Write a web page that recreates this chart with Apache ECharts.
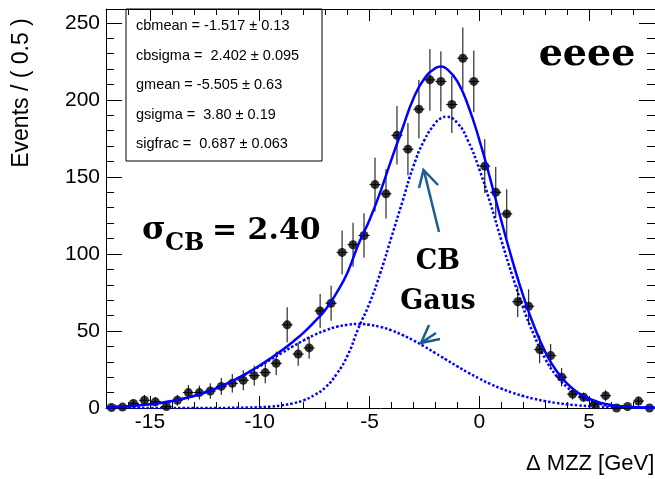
<!DOCTYPE html>
<html>
<head>
<meta charset="utf-8">
<script src="https://cdn.jsdelivr.net/npm/echarts@6/dist/echarts.min.js"></script>
<style>
  html, body { margin: 0; padding: 0; background: #ffffff; }
  #chart { width: 655px; height: 479px; }
</style>
</head>
<body>
<div id="chart"></div>
<script>
// Binned events (bin width 0.5 GeV), centres of the bins
const binCenters = [
  -16.75, -16.25, -15.75, -15.25, -14.75, -14.25, -13.75, -13.25, -12.75, -12.25,
  -11.75, -11.25, -10.75, -10.25, -9.75, -9.25, -8.75, -8.25, -7.75, -7.25,
  -6.75, -6.25, -5.75, -5.25, -4.75, -4.25, -3.75, -3.25, -2.75, -2.25,
  -1.75, -1.25, -0.75, -0.25, 0.25, 0.75, 1.25, 1.75, 2.25, 2.75,
  3.25, 3.75, 4.25, 4.75, 5.25, 5.75, 6.25, 6.75, 7.25, 7.75
];
const events = [
  0.3, 0.6, 3, 5, 4, 1, 5, 10, 10, 11,
  14, 16, 18, 21, 23, 29, 54, 35, 39, 63,
  68, 101, 106, 112, 145, 139, 177, 168, 194, 213,
  212, 197, 227, 212, 157, 140, 126, 69, 66, 38,
  34, 20, 9, 7, 2.5, 8, 0, 1, 4.5, 0
];
const eventErrors = [
  0.5, 0.8, 2.5, 3.5, 3, 1.5, 3.5, 5, 4.5, 5,
  5.5, 6, 6.5, 6.5, 7, 7.6, 11.4, 7.6, 7, 11,
  11.4, 14.3, 14.3, 14.4, 17.5, 16, 19, 17, 19, 20,
  19.5, 18.5, 20, 20, 17.5, 16.5, 16, 10, 11, 9,
  7.6, 6, 3.5, 3, 1.5, 3.5, 0.5, 1, 3, 0.5
];
const binHalfWidth = 0.25;

// Fit curves sampled every 0.5 GeV (plus the top of the peak)
const curveX = [
  -17, -16.5, -16, -15.5, -15, -14.5, -14, -13.5, -13, -12.5,
  -12, -11.5, -11, -10.5, -10, -9.5, -9, -8.5, -8, -7.5,
  -7, -6.5, -6, -5.5, -5, -4.5, -4, -3.5, -3, -2.5,
  -2, -1.75, -1.5, -1, -0.5, 0, 0.5, 1, 1.5, 2, 2.5,
  3, 3.5, 4, 4.5, 5, 5.5, 6, 6.5, 7, 7.5, 8
];
const totalFit = [
  0.57, 0.84, 1.21, 1.72, 2.41, 3.32, 4.49, 5.97, 7.82, 10.03,
  12.65, 15.78, 19.35, 23.3, 27.6, 32.3, 37.4, 42.9, 48.9, 56.0,
  63.9, 74.7, 88.0, 106.5, 122.0, 140.6, 161.4, 181.4, 200.9, 213.9,
  220.6, 221.6, 220.3, 212.0, 195.9, 174.1, 148.6, 121.6, 96.0, 72.8, 52.9,
  36.5, 24.3, 15.9, 9.9, 6.0, 3.5, 2.0, 1.07, 0.59, 0.32, 0.17
];
const cbComponent = [
  0.01, 0.01, 0.01, 0.01, 0.01, 0.01, 0.01, 0.01, 0.02, 0.03,
  0.05, 0.08, 0.15, 0.3, 0.5, 0.9, 1.7, 3, 5, 8.5,
  13.5, 22, 34, 52, 68, 88, 111, 134, 157, 174,
  185, 188.1, 189, 185, 173, 155, 133, 109, 86, 65, 47,
  32, 21, 13.5, 8.2, 4.8, 2.7, 1.4, 0.7, 0.35, 0.16, 0.07
];
const gausComponent = [
  0.56, 0.83, 1.2, 1.71, 2.4, 3.31, 4.48, 5.96, 7.8, 10.0,
  12.6, 15.7, 19.2, 23.0, 27.1, 31.4, 35.7, 39.9, 43.9, 47.5,
  50.4, 52.7, 54.0, 54.5, 54.0, 52.6, 50.4, 47.4, 43.9, 39.9,
  35.6, 33.5, 31.3, 27.0, 22.9, 19.1, 15.6, 12.6, 9.97, 7.75, 5.93,
  4.45, 3.29, 2.39, 1.70, 1.19, 0.82, 0.56, 0.37, 0.24, 0.16, 0.10
];

// Axis ranges and ticks
const xRange = [-17, 8];
const yRange = [0, 259];
const xMajorTicks = [-15, -10, -5, 0, 5];
const xMinorTicks = [-17, -16, -14, -13, -12, -11, -9, -8, -7, -6, -4, -3, -2, -1, 1, 2, 3, 4, 6, 7, 8];
const yMajorTicks = [0, 50, 100, 150, 200, 250];
const yMinorTicks = [10, 20, 30, 40, 60, 70, 80, 90, 110, 120, 130, 140, 160, 170, 180, 190, 210, 220, 230, 240];

// Fit results box
const fitParams = [
  'cbmean = -1.517 \u00b1 0.13',
  'cbsigma =  2.402 \u00b1 0.095',
  'gmean = -5.505 \u00b1 0.63',
  'gsigma =  3.80 \u00b1 0.19',
  'sigfrac =  0.687 \u00b1 0.063'
];

const channelLabel = 'eeee';
const yTitle = 'Events / ( 0.5 )';
const xTitle = '\u0394 MZZ [GeV]';

const SANS = '"Liberation Sans", Arial, sans-serif';
const SERIF = '"DejaVu Serif", serif';
const BLUE = '#0000ff';
const ARROW = '#1b5d8c';

function zip(xs, ys) { return xs.map((x, i) => [x, ys[i]]); }

function xAxisDef(position, ticks, len, showLine, showLabels) {
  return {
    type: 'value', position: position, min: xRange[0], max: xRange[1],
    axisLine: { show: showLine, onZero: false, lineStyle: { color: '#000', width: 1 } },
    axisTick: { show: true, inside: true, length: len, customValues: ticks, lineStyle: { color: '#000', width: 1 } },
    axisLabel: showLabels
      ? { show: true, customValues: ticks, fontFamily: SANS, fontSize: 21, color: '#000', margin: 4 }
      : { show: false },
    splitLine: { show: false }
  };
}
function yAxisDef(position, ticks, len, showLine, showLabels) {
  return {
    type: 'value', position: position, min: yRange[0], max: yRange[1],
    axisLine: { show: showLine, onZero: false, lineStyle: { color: '#000', width: 1 } },
    axisTick: { show: true, inside: true, length: len, customValues: ticks, lineStyle: { color: '#000', width: 1 } },
    axisLabel: showLabels
      ? { show: true, customValues: ticks, fontFamily: SANS, fontSize: 21, color: '#000', margin: 6 }
      : { show: false },
    splitLine: { show: false }
  };
}

const chart = echarts.init(document.getElementById('chart'), null, { renderer: 'canvas' });

const statsTexts = fitParams.map((t, i) => ({
  type: 'text', x: 136, y: 26 + 29.6 * i, z: 10,
  style: { text: t, fontFamily: SANS, fontSize: 14.5, fill: '#000', textVerticalAlign: 'middle' }
}));

const dotted = { color: BLUE, width: 2.5, type: [2.5, 2] };

chart.setOption({
  backgroundColor: '#ffffff',
  animation: false,
  grid: { left: 106, top: 9, width: 550, height: 399, containLabel: false },
  xAxis: [
    xAxisDef('bottom', xMajorTicks, 12, true, true),
    xAxisDef('bottom', xMinorTicks, 6, false, false),
    xAxisDef('top', xMajorTicks, 12, true, false),
    xAxisDef('top', xMinorTicks, 6, false, false)
  ],
  yAxis: [
    yAxisDef('left', yMajorTicks, 16, true, true),
    yAxisDef('left', yMinorTicks, 8, false, false),
    yAxisDef('right', yMajorTicks, 16, true, false),
    yAxisDef('right', yMinorTicks, 8, false, false)
  ],
  series: [
    {
      type: 'line', name: 'gaus', data: zip(curveX, gausComponent),
      smooth: 0.5, symbol: 'none', z: 3, lineStyle: dotted
    },
    {
      type: 'line', name: 'cb', data: zip(curveX, cbComponent),
      smooth: 0.5, symbol: 'none', z: 3, lineStyle: dotted
    },
    {
      type: 'custom', name: 'errors', z: 4,
      data: binCenters.map((x, i) => [x, events[i], eventErrors[i]]),
      renderItem: function (params, api) {
        const x = api.value(0), y = api.value(1), e = api.value(2);
        const c = api.coord([x, y]);
        const top = api.coord([x, y + e]);
        const bot = api.coord([x, Math.max(y - e, 0)]);
        const l = api.coord([x - binHalfWidth, y]);
        const r = api.coord([x + binHalfWidth, y]);
        return {
          type: 'group',
          children: [
            { type: 'line', shape: { x1: c[0], y1: top[1], x2: c[0], y2: bot[1] }, style: { stroke: '#000', lineWidth: 1 } },
            { type: 'line', shape: { x1: l[0], y1: c[1], x2: r[0], y2: c[1] }, style: { stroke: '#000', lineWidth: 1 } }
          ]
        };
      }
    },
    {
      type: 'scatter', name: 'data', data: zip(binCenters, events),
      symbol: 'circle', symbolSize: 9, z: 5,
      itemStyle: { color: '#000' }
    },
    {
      type: 'line', name: 'total', data: zip(curveX, totalFit),
      smooth: 0.5, symbol: 'none', z: 6,
      lineStyle: { color: BLUE, width: 2.5 }
    }
  ],
  graphic: [
    { type: 'rect', shape: { x: 126, y: 9, width: 196, height: 152 }, style: { fill: 'none', stroke: '#000', lineWidth: 1 }, z: 10 },
    ...statsTexts,
    { type: 'text', x: 587, y: 55, z: 10,
      style: { text: channelLabel, fontFamily: SERIF, fontWeight: 'bold', fontSize: 38, fill: '#000', textAlign: 'center', textVerticalAlign: 'middle' } },
    // sigma_CB annotation
    { type: 'text', x: 142, y: 231, z: 10,
      style: { text: '\u03c3', fontFamily: SERIF, fontWeight: 'bold', fontSize: 32, fill: '#000', textVerticalAlign: 'middle' } },
    { type: 'text', x: 165, y: 243.5, z: 10,
      style: { text: 'CB', fontFamily: SERIF, fontWeight: 'bold', fontSize: 24, fill: '#000', textVerticalAlign: 'middle' } },
    { type: 'text', x: 212, y: 231, z: 10,
      style: { text: '= 2.40', fontFamily: SERIF, fontWeight: 'bold', fontSize: 30, fill: '#000', textVerticalAlign: 'middle' } },
    // component labels
    { type: 'text', x: 438, y: 262, z: 10,
      style: { text: 'CB', fontFamily: SERIF, fontWeight: 'bold', fontSize: 27, fill: '#000', textAlign: 'center', textVerticalAlign: 'middle' } },
    { type: 'text', x: 438, y: 302, z: 10,
      style: { text: 'Gaus', fontFamily: SERIF, fontWeight: 'bold', fontSize: 27, fill: '#000', textAlign: 'center', textVerticalAlign: 'middle' } },
    // arrows
    { type: 'line', z: 10, shape: { x1: 439, y1: 232, x2: 424, y2: 171 }, style: { stroke: ARROW, lineWidth: 2.5 } },
    { type: 'polyline', z: 10, shape: { points: [[419, 188], [423.5, 170], [438, 185]] }, style: { stroke: ARROW, lineWidth: 2.5, fill: 'none' } },
    { type: 'line', z: 10, shape: { x1: 436, y1: 333, x2: 421, y2: 343 }, style: { stroke: ARROW, lineWidth: 2.5 } },
    { type: 'polyline', z: 10, shape: { points: [[429, 325], [421, 343], [440, 339]] }, style: { stroke: ARROW, lineWidth: 2.5, fill: 'none' } },
    // axis titles
    { type: 'text', x: 22, y: 93, rotation: Math.PI / 2, z: 10,
      style: { text: yTitle, fontFamily: SANS, fontSize: 23, fill: '#000', textAlign: 'center', textVerticalAlign: 'middle' } },
    { type: 'text', x: 526, y: 464, z: 10,
      style: { text: xTitle, fontFamily: SANS, fontSize: 22, fill: '#000', textVerticalAlign: 'middle' } }
  ]
});
</script>
</body>
</html>
